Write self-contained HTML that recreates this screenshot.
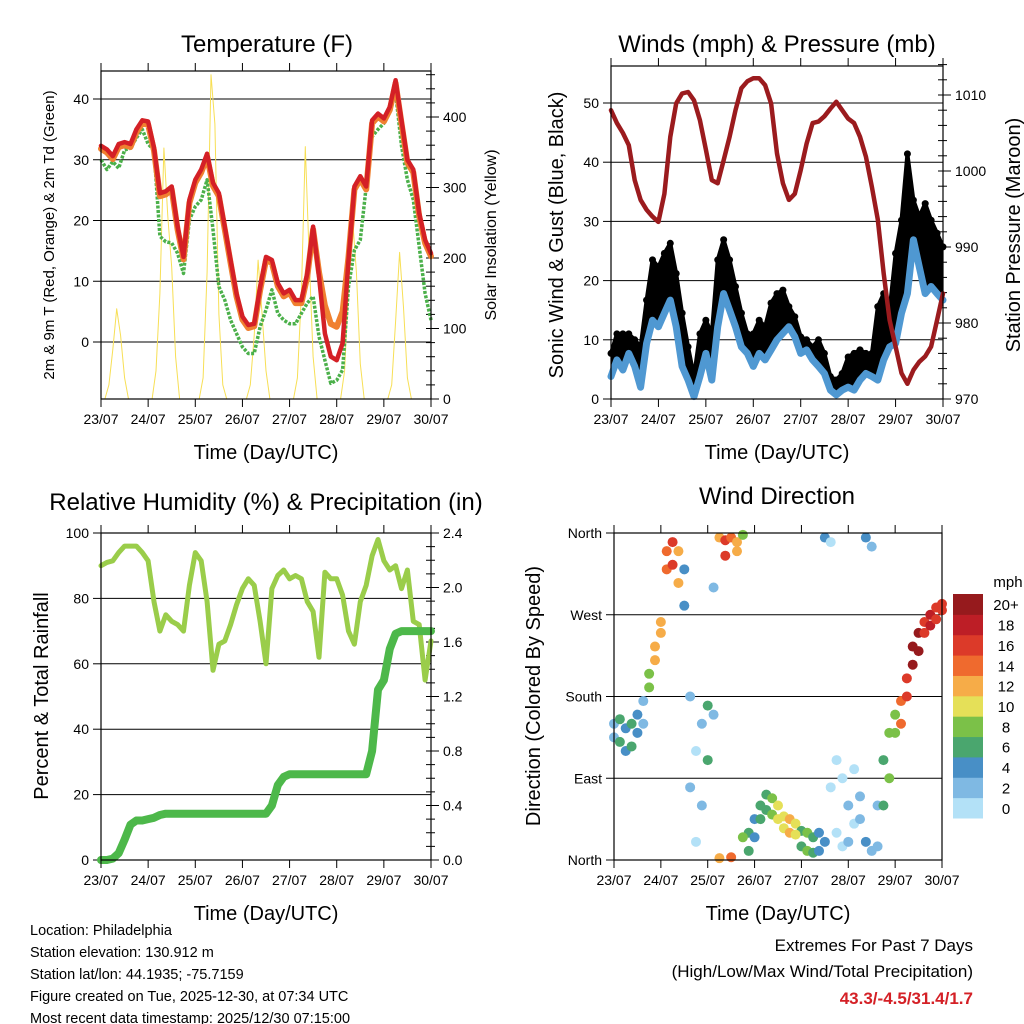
<!DOCTYPE html>
<html><head><meta charset="utf-8"><style>
html,body{margin:0;padding:0;background:#fff;}
svg{display:block;font-family:"Liberation Sans",Arial,sans-serif;}
</style></head><body>
<svg id="c" width="1024" height="1024" viewBox="0 0 1024 1024" xmlns="http://www.w3.org/2000/svg"></svg>
<script>
// ---------- DATA (3-hourly, hours 0..168 from 23/07 00 UTC) ----------
const dayLabels = ["23/07","24/07","25/07","26/07","27/07","28/07","29/07","30/07"];
const tempRed = [32.3,31.7,30.6,32.6,32.9,32.6,35,36.5,36.3,32,24.5,24.8,25.6,19,14,23.4,26.7,28.4,31,26.2,24.5,19,13.5,8,4.2,2.8,3,9,14,13.5,9.7,8,8.6,6.9,6.9,11.3,19,10.8,1.4,-2.4,-3,-0.2,13.5,25.6,27.3,25.6,36.5,37.6,36.8,38.7,43.1,36.5,30,28.4,21.2,16.8,14.6];
const tempOrange = [31.8,31.2,30.1,32.1,32.4,32.1,34.5,36,35.8,31.5,24,24.3,25.1,18.5,13.6,22.9,26.2,27.9,30.5,25.7,24,18.5,13,7.5,3.7,2.3,2.6,8.5,13.5,13,9.2,7.5,8.1,6.4,6.4,10.8,18.5,11.5,6,3,2.5,5,14,25.1,26.8,25.1,36,37.1,36.3,38.2,42.6,36,29.5,27.9,20.7,16.3,14.1];
const dewGreen = [30,28.4,29.7,28.6,31.6,31.9,33.6,35,32.6,31.6,17.4,16.5,16.3,14.6,11.3,20.1,22.3,23.4,26.7,18.5,9.1,6.9,3.6,1.4,-0.8,-1.9,-1.9,2.5,5.3,8.6,4.7,3.6,3,3,4.7,6.4,7.5,0.9,-3,-6.8,-6.3,-4.6,9.1,15.1,16.8,25.6,33.8,35,36,38.2,41,32.3,26.7,23.4,15.7,8,3.6];
// 2-hourly solar insolation (hours 0..168)
const solar = [0,0,20,70,128,90,30,0,0,0,0,0,
               0,0,40,150,356,259,187,60,0,0,0,0,
               0,0,30,180,460,390,120,20,0,0,0,0,
               0,0,20,90,197,120,40,0,0,0,0,0,
               0,0,30,150,358,200,60,0,0,0,0,0,
               0,0,40,160,259,180,50,0,0,0,0,0,
               0,0,20,110,208,130,30,0,0,0,0,0,0];
const windSpd = [3.8,6.6,4.9,7.7,5.5,2,9.4,13.3,12.2,14.5,16.7,12.2,5.5,3.2,0.4,3.8,7.7,3.2,12.2,17.8,15,12.2,8.8,7.7,5.5,7.7,6.6,8.3,10,11.1,12.2,10.5,7.7,8.3,6.6,5.5,4.3,1.5,0.7,1.5,2,1.5,3.2,4.3,3.8,3.2,6.6,8.8,9.4,14.5,17.8,26.9,22.3,17.8,19,17.8,16.7];
const windGust = [7.7,11,11,11,10,8.8,16.7,23.5,22.3,24.6,26.3,21.2,14.5,8.8,3.8,11,13.3,11,23.5,26.9,23.5,19,14.5,11,11,13.3,12.2,16.2,17.8,18.4,15.6,13.9,10.5,10,8.8,10,7.7,3.8,3.2,4.3,7.1,7.7,8.3,7.7,7.7,15.6,17.8,15,24.6,30.2,41.4,33.6,30.8,33,30.2,28,25.7];
const pressure = [1008,1006.3,1005,1003.4,998.8,996.2,994.9,994,993.3,997,1004.5,1008.9,1010.2,1010.4,1009.3,1006.7,1002.8,998.8,998.4,1001.4,1004.5,1008,1010.9,1011.8,1012.2,1012.2,1011.3,1008.9,1002.3,998.4,996.2,997,1000.1,1003.6,1006.3,1006.5,1007.2,1008.2,1009.1,1008,1006.9,1006.3,1004.5,1001.9,997.9,993.6,986.5,980.4,976.9,973.4,972,973.8,974.9,975.6,976.9,980.4,983.9];
const relHum = [90,91,91.5,94,96,96,96,94,91.5,79,70,75,73,72,70,84,94,91.5,79,58,66,67,72,78,83,86,84,73,60,83,87,88.7,86,87,86,79,76,62,88,86,86,81,70,66,79,84,93,98,91.5,88.7,90,83,88.7,73,72,55,67];
const precip = [0,0,0.01,0.05,0.15,0.26,0.29,0.29,0.3,0.31,0.33,0.34,0.34,0.34,0.34,0.34,0.34,0.34,0.34,0.34,0.34,0.34,0.34,0.34,0.34,0.34,0.34,0.34,0.34,0.40,0.55,0.61,0.63,0.63,0.63,0.63,0.63,0.63,0.63,0.63,0.63,0.63,0.63,0.63,0.63,0.63,0.80,1.25,1.32,1.55,1.66,1.68,1.68,1.68,1.68,1.68,1.68];
const dirA = [150,155,145,150,160,175,205,235,262,340,350,340,320,180,120,150,170,300,355,352,355,350,358,30,45,60,72,68,60,48,45,40,32,30,25,30,355,350,110,90,60,100,70,355,345,60,110,140,160,175,200,235,250,262,270,278,282];
const dirB = [135,130,120,125,140,150,190,220,250,320,325,305,280,80,20,60,110,160,2,335,3,340,25,10,25,45,55,50,45,35,30,28,15,10,8,10,20,80,30,15,20,40,45,20,10,15,60,90,140,150,180,215,230,250,258,265,275];
const cbLabels = ["0","2","4","6","8","10","12","14","16","18","20+"];
const cbColors = ["#b3e1f7","#7fb9e3","#488fc6","#4aa66e","#7bc148","#e5e058","#f6ac48","#ef6a2e","#dc3a29","#bd1e26","#961a1d"];

// ---------- helpers ----------
const NS="http://www.w3.org/2000/svg";
const svg=document.getElementById('c');
function mk(tag,attrs,parent){const e=document.createElementNS(NS,tag);for(const k in attrs)e.setAttribute(k,attrs[k]);(parent||svg).appendChild(e);return e;}
function txt(s,x,y,size,anchor,parent,extra){const e=mk('text',Object.assign({x:x,y:y,'font-size':size,'text-anchor':anchor||'middle',fill:'#000'},extra||{}),parent);e.textContent=s;return e;}
function lin(d0,d1,r0,r1){return v=>r0+(v-d0)/(d1-d0)*(r1-r0);}

function panel(name,x0,x1,y0,y1){
  const g=mk('g',{});
  
  
  return {g,x0,x1,y0,y1,xs:lin(0,168,x0,x1)};
}
function frame(p){
  const r=mk('rect',{x:p.x0,y:p.y0,width:p.x1-p.x0,height:p.y1-p.y0,fill:'none',stroke:'#000','stroke-width':1.2},p.g);
  
  
  const xt=mk('g',{},p.g);
  
  
  dayLabels.forEach((d,i)=>{
    const x=p.xs(i*24);
    mk('line',{x1:x,x2:x,y1:p.y1,y2:p.y1+8,stroke:'#000','stroke-width':1},xt);
    mk('line',{x1:x,x2:x,y1:p.y0,y2:p.y0-8,stroke:'#000','stroke-width':1},xt);
    const t=txt(d,x,p.y1+25,14,'middle',xt);
    
    
  });
  const at=txt('Time (Day/UTC)',(p.x0+p.x1)/2,p.y1+60,20,'middle',xt);
  
  
}
function yAxisLeft(p,ys,ticks,labels,grid){
  const g=mk('g',{},p.g);
  
  
  ticks.forEach((v,i)=>{
    const y=ys(v);
    mk('line',{x1:p.x0-8,x2:p.x0,y1:y,y2:y,stroke:'#000'},g);
    if(grid&&y>p.y0+1&&y<p.y1-1)mk('line',{x1:p.x0,x2:p.x1,y1:y,y2:y,stroke:'#000','stroke-width':1},g);
    const t=txt(labels[i],p.x0-12,y+5,14,'end',g);
    
    
  });
}
function yAxisRight(p,ys,ticks,labels,minor){
  const g=mk('g',{},p.g);
  
  
  ticks.forEach((v,i)=>{
    const y=ys(v);
    mk('line',{x1:p.x1,x2:p.x1+8,y1:y,y2:y,stroke:'#000'},g);
    const t=txt(labels[i],p.x1+12,y+5,14,'start',g);
    
    
  });
  (minor||[]).forEach(v=>{const y=ys(v);mk('line',{x1:p.x1-5,x2:p.x1+4,y1:y,y2:y,stroke:'#000'},g);});
}
function vtitle(s,x,y,size,parent,name){
  const t=txt(s,x,y,size,'middle',parent,{transform:`rotate(-90 ${x} ${y})`});
  
  
}
function title(s,x,y,parent){
  const t=txt(s,x,y,24,'middle',parent);
  
  
}
function path(p,vals,step,ys,attrs,name){
  const d=vals.map((v,i)=>(i?'L':'M')+p.xs(i*step).toFixed(1)+','+ys(v).toFixed(1)).join('');
  const e=mk('path',Object.assign({d:d,fill:'none','stroke-linejoin':'round','stroke-linecap':'round'},attrs),p.g);
  
  
  return e;
}
function minorRange(a,b,s){const r=[];for(let v=a;v<=b+1e-9;v+=s)r.push(v);return r;}

// ---------- Panel 1: Temperature ----------
(function(){
  const p=panel('temperature-panel',101,431,71,399);
  const ys=lin(0,40,342,99), ys2=lin(0,400,399,117);
  title('Temperature (F)',267,52,p.g);
  yAxisLeft(p,ys,[0,10,20,30,40],['0','10','20','30','40'],true);
  yAxisRight(p,ys2,[0,100,200,300,400],['0','100','200','300','400'],minorRange(0,460,20));
  path(p,solar,2,ys2,{stroke:'#f7df55','stroke-width':1},'solar-insolation-line');
  path(p,dewGreen,3,ys,{stroke:'#4bb04a','stroke-width':3.5,'stroke-dasharray':'3 1.5','stroke-linecap':'butt'},'dewpoint-line');
  path(p,tempOrange,3,ys,{stroke:'#f08030','stroke-width':6},'temp-9m-line');
  path(p,tempRed,3,ys,{stroke:'#d42026','stroke-width':4.5},'temp-2m-line');
  frame(p);
  vtitle('2m & 9m T (Red, Orange) & 2m Td (Green)',54,235,15,p.g,'y-axis-title');
  vtitle('Solar Insolation (Yellow)',496,235,16,p.g,'y2-axis-title');
})();

// ---------- Panel 2: Winds & pressure ----------
(function(){
  const p=panel('winds-panel',611,943,66,399);
  const ys=lin(0,50,399,103), ys2=lin(970,1010,399,95);
  title('Winds (mph) & Pressure (mb)',777,52,p.g);
  yAxisLeft(p,ys,[0,10,20,30,40,50],['0','10','20','30','40','50'],true);
  yAxisRight(p,ys2,[970,980,990,1000,1010],['970','980','990','1000','1010'],minorRange(970,1014,2));
  const top=windGust.map((v,i)=>'L'+p.xs(i*3).toFixed(1)+','+ys(v).toFixed(1)).join('').replace(/^L/,'M');
  const bot=windSpd.map((v,i)=>[i,v]).reverse().map(([i,v])=>'L'+p.xs(i*3).toFixed(1)+','+ys(v).toFixed(1)).join('');
  const band=mk('path',{d:top+bot+'Z',fill:'#000'},p.g);
  
  
  path(p,windGust,3,ys,{stroke:'#000','stroke-width':4},'gust-line');
  windGust.forEach((v,i)=>{
    const c=mk('circle',{cx:p.xs(i*3),cy:ys(v),r:3.5,fill:'#000'},p.g);
    
    
  });
  path(p,windSpd,3,ys,{stroke:'#4f98d2','stroke-width':7},'wind-speed-line');
  path(p,pressure,3,ys2,{stroke:'#9b1b1e','stroke-width':4.5},'pressure-line');
  frame(p);
  vtitle('Sonic Wind & Gust (Blue, Black)',563,235,20,p.g,'y-axis-title');
  vtitle('Station Pressure (Maroon)',1020,235,20,p.g,'y2-axis-title');
})();

// ---------- Panel 3: RH & Precip ----------
(function(){
  const p=panel('humidity-panel',101,431,533,860);
  const ys=lin(0,100,860,533), ys2=lin(0,2.4,860,533);
  title('Relative Humidity (%) & Precipitation (in)',266,510,p.g);
  yAxisLeft(p,ys,[0,20,40,60,80,100],['0','20','40','60','80','100'],true);
  yAxisRight(p,ys2,[0,0.4,0.8,1.2,1.6,2.0,2.4],['0.0','0.4','0.8','1.2','1.6','2.0','2.4'],minorRange(0,2.4,0.1));
  path(p,relHum,3,ys,{stroke:'#9acd4a','stroke-width':5},'relative-humidity-line');
  path(p,precip,3,ys2,{stroke:'#4db84a','stroke-width':8},'precipitation-line');
  frame(p);
  vtitle('Percent & Total Rainfall',48,696,20,p.g,'y-axis-title');
})();

// ---------- Panel 4: Wind direction ----------
(function(){
  const p=panel('wind-direction-panel',614,942,533,860);
  const ys=lin(0,360,860,533);
  title('Wind Direction',777,504,p.g);
  yAxisLeft(p,ys,[0,90,180,270,360],['North','East','South','West','North'],true);
  const col=v=>cbColors[Math.min(10,Math.max(0,Math.floor(v/2)))];
  [dirA,dirB].forEach(arr=>arr.forEach((d,i)=>{
    const c=mk('circle',{cx:p.xs(i*3),cy:ys(d),r:5,fill:col(windSpd[i])},p.g);
    
    
  }));
  frame(p);
  vtitle('Direction (Colored By Speed)',540,696,20,p.g,'y-axis-title');
  const cb=mk('g',{},p.g);
  
  
  const h=224/cbColors.length;
  cbColors.forEach((c,i)=>{
    const y=818-(i+1)*h;
    const r=mk('rect',{x:953,y:y,width:30,height:h+0.5,fill:c},cb);
    
    
    const t=txt(cbLabels[i],1006,y+h/2+6,15,'middle',cb);
    
    
  });
  const m=txt('mph',1008,587,15,'middle',cb);
  
  
})();

// ---------- footer text ----------
const info=mk('g',{});


["Location: Philadelphia","Station elevation: 130.912 m","Station lat/lon: 44.1935; -75.7159","Figure created on Tue, 2025-12-30, at 07:34 UTC","Most recent data timestamp: 2025/12/30 07:15:00"].forEach((s,i)=>{
  const t=txt(s,30,935+i*22,14.5,'start',info);
  
  
});
const ext=mk('g',{});


const e1=txt('Extremes For Past 7 Days',973,951,17,'end',ext);


const e2=txt('(High/Low/Max Wind/Total Precipitation)',973,977,17,'end',ext);


const e3=txt('43.3/-4.5/31.4/1.7',973,1004,17,'end',ext,{fill:'#d42026','font-weight':'bold'});


</script>
</body></html>
